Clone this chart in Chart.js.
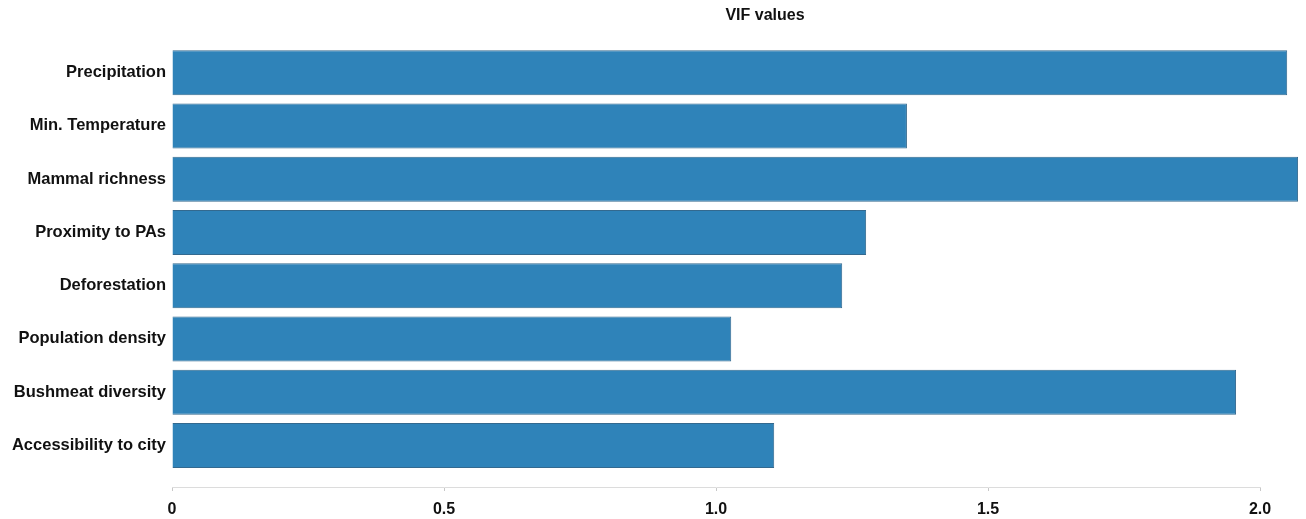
<!DOCTYPE html>
<html>
<head>
<meta charset="utf-8">
<script src="https://cdn.jsdelivr.net/npm/chart.js@4.4.1/dist/chart.umd.min.js"></script>
<style>
  html, body { margin: 0; padding: 0; background: #fff; }
  #wrap { position: relative; width: 1306px; height: 519px; }
  #title { position: absolute; top: 5px; left: 665px; width: 200px; text-align: center;
           font: bold 16px "Liberation Sans", Arial, sans-serif; color: #111; line-height: 20px; }
</style>
</head>
<body>
<div id="wrap">
  <canvas id="c" width="1306" height="519"></canvas>
  <div id="title">VIF values</div>
</div>
<script>
const categories = ["Precipitation", "Min. Temperature", "Mammal richness", "Proximity to PAs",
                    "Deforestation", "Population density", "Bushmeat diversity", "Accessibility to city"];
const vifValues = [2.05, 1.351, 2.07, 1.276, 1.232, 1.028, 1.956, 1.107];
const xTicks = [0, 0.5, 1.0, 1.5, 2.0];

const FONT = "'Liberation Sans', Arial, Helvetica, sans-serif";

new Chart(document.getElementById('c'), {
  type: 'bar',
  data: {
    datasets: [{
      data: vifValues.map((v, i) => ({ x: v, y: i })),
      backgroundColor: '#2f83b9',
      borderColor: '#33698f',
      borderWidth: 1,
      borderSkipped: 'left',
      barPercentage: 0.845,
      categoryPercentage: 1,
      clip: false
    }]
  },
  options: {
    indexAxis: 'y',
    responsive: false,
    animation: false,
    layout: { padding: { top: 46, right: 46, left: 0, bottom: 0 } },
    plugins: { legend: { display: false }, tooltip: { enabled: false }, title: { display: false } },
    scales: {
      y: {
        type: 'linear',
        reverse: true,
        offset: false,
        min: -0.5,
        max: 7.78,
        grid: { display: false, drawTicks: false, tickLength: 0 },
        border: { display: false },
        afterBuildTicks: s => { s.ticks = categories.map((_, i) => ({ value: i })); },
        afterFit: s => { s.width = 172; },
        ticks: {
          padding: 6,
          color: '#111',
          font: { family: FONT, size: 16.5, weight: 'bold' },
          callback: v => categories[v]
        }
      },
      x: {
        type: 'linear',
        min: 0,
        max: 2,
        afterBuildTicks: s => { s.ticks = xTicks.map(v => ({ value: v })); },
        afterFit: s => { s.height = 32; },
        grid: { drawOnChartArea: false, drawTicks: true, tickLength: 4, color: '#c8c8c8' },
        border: { display: true, color: '#dcdcdc', width: 1 },
        ticks: {
          padding: 9,
          color: '#111',
          font: { family: FONT, size: 16, weight: 'bold' },
          callback: v => (v === 0 ? '0' : v.toFixed(1))
        }
      }
    }
  }
});
</script>
</body>
</html>
